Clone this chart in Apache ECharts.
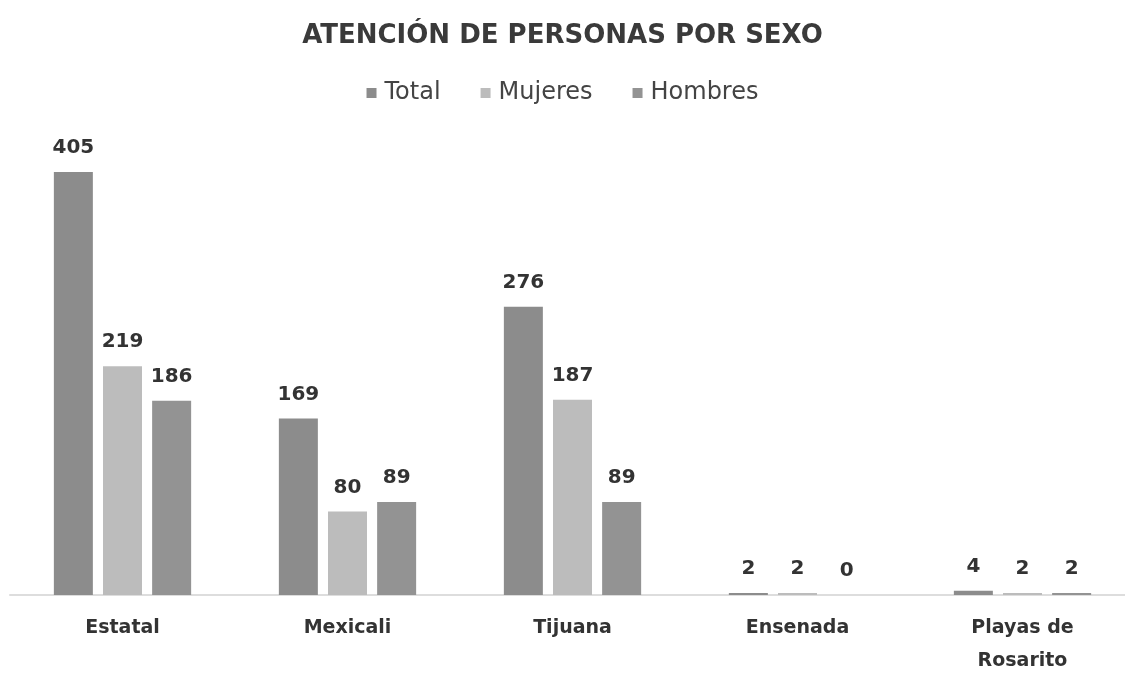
<!DOCTYPE html>
<html>
<head>
<meta charset="utf-8">
<script src="https://cdn.jsdelivr.net/npm/echarts@6/dist/echarts.min.js"></script>
<style>
  html, body { margin: 0; padding: 0; background: #fff; }
  #chart { width: 1125px; height: 674px; }
</style>
</head>
<body>
<div id="chart"></div>
<script>
const categories = ['Estatal', 'Mexicali', 'Tijuana', 'Ensenada', 'Playas de\nRosarito'];
const total = [405, 169, 276, 2, 4];
const mujeres = [219, 80, 187, 2, 2];
const hombres = [186, 89, 89, 0, 2];

const chart = echarts.init(document.getElementById('chart'));

const labelStyle = {
  show: true,
  position: 'top',
  distance: 14,
  color: '#333',
  fontSize: 20,
  fontWeight: 'bold',
  fontFamily: 'DejaVu Sans'
};

function bar(name, data, color) {
  return {
    name: name,
    type: 'bar',
    data: data,
    barWidth: 39,
    barGap: '26%',
    itemStyle: { color: color },
    label: labelStyle
  };
}

chart.setOption({
  animation: false,
  title: {
    text: 'ATENCIÓN DE PERSONAS POR SEXO',
    left: 'center',
    top: 18,
    textStyle: { fontSize: 26, fontWeight: 'bold', color: '#3a3a3a', fontFamily: 'DejaVu Sans' }
  },
  legend: {
    top: 76,
    left: 'center',
    itemWidth: 10,
    itemHeight: 10,
    itemGap: 40,
    icon: 'rect',
    textStyle: { fontSize: 24, color: '#444', fontFamily: 'DejaVu Sans', padding: [0, 0, 0, 3] }
  },
  grid: { left: 10, right: -10, top: 125, bottom: 79, outerBoundsMode: 'none', containLabel: false },
  xAxis: {
    type: 'category',
    data: categories,
    axisLine: { lineStyle: { color: '#ddd', width: 2 } },
    axisTick: { show: false },
    axisLabel: {
      color: '#333',
      fontSize: 19,
      fontWeight: 'bold',
      fontFamily: 'DejaVu Sans',
      margin: 17,
      lineHeight: 33
    }
  },
  yAxis: {
    type: 'value',
    min: 0,
    max: 450,
    show: false,
    splitLine: { show: false }
  },
  series: [
    bar('Total', total, '#8c8c8c'),
    bar('Mujeres', mujeres, '#bcbcbc'),
    bar('Hombres', hombres, '#939393')
  ]
});
</script>
</body>
</html>
